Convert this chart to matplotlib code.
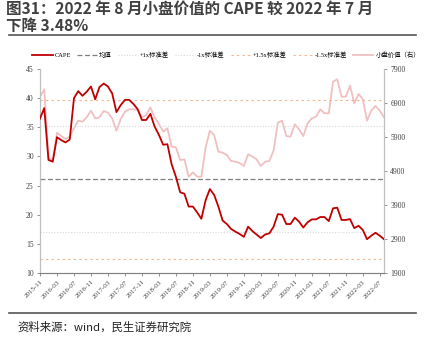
import numpy as np
import pandas as pd
import matplotlib
matplotlib.use("Agg")
import matplotlib.pyplot as plt

# monthly data 2015-11 .. 2022-08
months = pd.date_range("2015-11-01", "2022-08-01", freq="MS").strftime("%Y-%m").tolist()

cape = [36.5, 38.3, 29.4, 29.1, 33.3, 32.8, 32.4, 32.9, 40.0, 41.2,
        40.4, 41.1, 42.0, 39.8, 41.9, 42.5, 42.0, 40.8, 37.6, 38.8,
        39.7, 39.7, 39.0, 38.1, 36.25, 36.25, 37.3, 35.1, 33.7, 32.0,
        32.1, 28.65, 26.5, 23.85, 23.6, 21.4, 21.4, 20.4, 19.3, 22.5,
        24.4, 23.4, 21.4, 19.0, 18.4, 17.55, 17.1, 16.7, 16.2, 17.95,
        17.2, 16.6, 16.0, 16.6, 16.8, 17.95, 20.1, 20.0, 18.4, 18.4,
        19.5, 18.8, 17.8, 18.7, 19.2, 19.2, 19.6, 19.6, 18.9, 21.1,
        21.2, 19.1, 19.1, 19.25, 17.7, 18.1, 17.4, 15.8, 16.4, 16.9,
        16.4, 15.8]

small_value = [7086, 7302, 5273, 5229, 6027, 5929, 5841, 5909, 6155, 6380,
               6351, 6479, 6674, 6449, 6479, 6665, 6615, 6449, 6086, 6420,
               6645, 6714, 6714, 6694, 6479, 6547, 6773, 6479, 6282, 6056,
               6155, 5615, 5596, 5223, 5243, 4733, 4861, 4733, 4733, 5596,
               6086, 5959, 5468, 5439, 5371, 5194, 5174, 5135, 5047, 5391,
               5321, 5243, 5047, 5174, 5194, 5498, 6321, 6380, 5929, 5909,
               6273, 6126, 5929, 6302, 6449, 6498, 6714, 6596, 6596, 7527,
               7596, 7086, 7086, 7409, 6891, 7165, 7018, 6380, 6674, 6812,
               6674, 6479]

mean_v = 26.1
std_v = 9.1

title1 = "图31：2022 年 8 月小盘价值的 CAPE 较 2022 年 7 月"
title2 = "下降 3.48%"
source = "资料来源：wind，民生证券研究院"

cjk = ["Noto Sans CJK SC", "DejaVu Sans"]
serif = ["Liberation Serif", "Noto Sans CJK SC"]

fig = plt.figure(figsize=(4.34, 3.44), dpi=100)

fig.text(0.014, 1 - 9 / 344, title1, fontsize=11.2, fontweight="bold", color="#404040",
         family=cjk, va="center", ha="left")
fig.text(0.014, 1 - 25.5 / 344, title2, fontsize=11.2, fontweight="bold", color="#404040",
         family=cjk, va="center", ha="left")
fig.add_artist(plt.Line2D([0.02, 0.958], [1 - 34.5 / 344] * 2, color="#555555", lw=1.2))
fig.add_artist(plt.Line2D([0.02, 0.958], [0.09, 0.09], color="#555555", lw=1.2))
fig.text(0.04, 0.05, source, fontsize=8.2, color="#222222", family=cjk, va="center")

ax = fig.add_axes([40 / 434, 1 - 273 / 344, 344 / 434, 204 / 344])
ax2 = ax.twinx()

x = np.arange(len(months))
l1, = ax.plot(x, cape, color="#C00000", lw=1.3, label="CAPE", zorder=5)
l2 = ax.axhline(mean_v, color="#7F7F7F", lw=0.9, ls=(0, (4, 2)), label="均值")
l3 = ax.axhline(mean_v + std_v, color="#D9D9D9", lw=0.8, ls=(0, (1, 1.5)), label="+1x标准差")
l4 = ax.axhline(mean_v - std_v, color="#D9D9D9", lw=0.8, ls=(0, (1, 1.5)), label="-1x标准差")
l5 = ax.axhline(mean_v + 1.5 * std_v, color="#F4B183", lw=0.8, ls=(0, (2, 3)), label="+1.5x标准差")
l6 = ax.axhline(mean_v - 1.5 * std_v, color="#F4B183", lw=0.8, ls=(0, (2, 3)), label="-1.5x标准差")
l7, = ax2.plot(x, small_value, color="#F0C0C0", lw=1.3, label="小盘价值（右）")
ax.set_zorder(ax2.get_zorder() + 1)
ax.patch.set_visible(False)

ax.set_xlim(0, len(months) - 1)
ax.set_ylim(10, 45)
ax.set_yticks(np.arange(10, 46, 5))
ax2.set_ylim(1900, 7900)
ax2.set_yticks(np.arange(1900, 7901, 1000))
ticks = list(range(0, len(months), 4))
ax.set_xticks(ticks)
ax.set_xticklabels([months[i] for i in ticks], rotation=45, ha="right",
                   rotation_mode="anchor", fontsize=5, family=serif, color="#404040")
for lab in ax.get_yticklabels() + ax2.get_yticklabels():
    lab.set_fontsize(5.5)
    lab.set_family(serif)
    lab.set_color("#404040")

for a in (ax, ax2):
    for s in a.spines.values():
        s.set_color("#BFBFBF")
        s.set_linewidth(0.8)
    a.spines["top"].set_visible(False)
    a.tick_params(length=2.5, width=0.6, color="#808080", pad=2)
ax.spines["bottom"].set_color("#808080")

ax.legend(handles=[l1, l2, l3, l4, l5, l6, l7], loc="lower left",
          bbox_to_anchor=(-0.03, 1.04), ncol=7, frameon=False,
          prop={"family": serif, "size": 4.6}, handlelength=3.2,
          columnspacing=0.9, handletextpad=0.3, borderaxespad=0)

fig.savefig("out.png", dpi=100)
